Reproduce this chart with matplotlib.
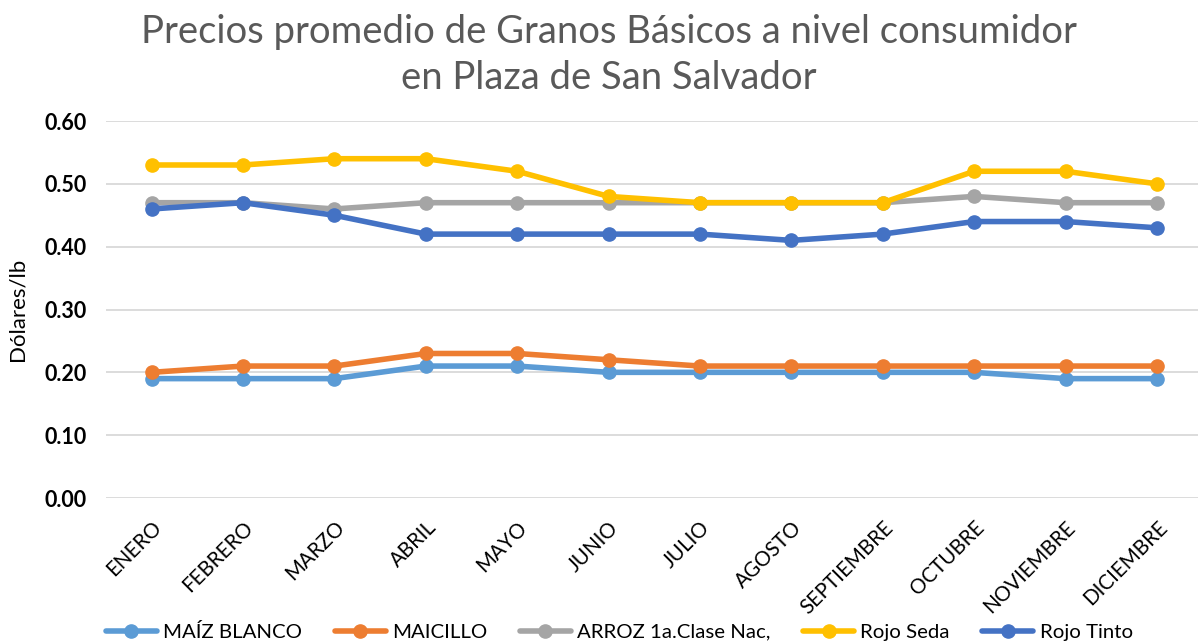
import matplotlib.pyplot as plt

# Datos
meses = ['ENERO', 'FEBRERO', 'MARZO', 'ABRIL', 'MAYO', 'JUNIO', 'JULIO',
         'AGOSTO', 'SEPTIEMBRE', 'OCTUBRE', 'NOVIEMBRE', 'DICIEMBRE']
maiz_blanco = [0.19, 0.19, 0.19, 0.21, 0.21, 0.20, 0.20, 0.20, 0.20, 0.20, 0.19, 0.19]
maicillo = [0.20, 0.21, 0.21, 0.23, 0.23, 0.22, 0.21, 0.21, 0.21, 0.21, 0.21, 0.21]
arroz = [0.47, 0.47, 0.46, 0.47, 0.47, 0.47, 0.47, 0.47, 0.47, 0.48, 0.47, 0.47]
rojo_seda = [0.53, 0.53, 0.54, 0.54, 0.52, 0.48, 0.47, 0.47, 0.47, 0.52, 0.52, 0.50]
rojo_tinto = [0.46, 0.47, 0.45, 0.42, 0.42, 0.42, 0.42, 0.41, 0.42, 0.44, 0.44, 0.43]

series = [
    ('MAÍZ BLANCO', maiz_blanco, '#5B9BD5'),
    ('MAICILLO', maicillo, '#ED7D31'),
    ('ARROZ 1a.Clase Nac,', arroz, '#A5A5A5'),
    ('Rojo Seda', rojo_seda, '#FFC000'),
    ('Rojo Tinto', rojo_tinto, '#4472C4'),
]

plt.rcParams['font.family'] = ['Lato', 'DejaVu Sans']

fig = plt.figure(figsize=(11.98, 6.44), dpi=100)
ax = fig.add_axes([0.0885, 0.2267, 0.9115, 0.5854])

x = list(range(len(meses)))
for nombre, valores, color in series:
    ax.plot(x, valores, color=color, linewidth=4, marker='o', markersize=9.5,
            label=nombre, solid_capstyle='round')

ax.set_ylim(0, 0.6)
ax.set_xlim(-0.5, 11.45)
ax.set_yticks([0, 0.1, 0.2, 0.3, 0.4, 0.5, 0.6])
ax.set_yticklabels(['%.2f' % v for v in ax.get_yticks()], fontsize=15.5, fontweight='bold')
ax.set_xticks(x)
ax.set_xticklabels(meses, rotation=45, ha='right', rotation_mode='anchor', fontsize=14.8)
ax.tick_params(length=0, pad=14)
ax.tick_params(axis='x', pad=14)
ax.grid(axis='y', color='#D9D9D9', linewidth=1.3)
ax.set_axisbelow(True)
for s in ax.spines.values():
    s.set_visible(False)

ax.set_ylabel('Dólares/lb', fontsize=16, labelpad=12)

fig.text(0.508, 0.978, 'Precios promedio de Granos Básicos a nivel consumidor\nen Plaza de San Salvador',
         fontsize=27.5, color='#595959', ha='center', va='top', linespacing=1.35)

ax.legend(loc='center', bbox_to_anchor=(0.47, -0.355), ncol=5, frameon=False,
          fontsize=14.7, handlelength=2.5, columnspacing=1.6, handletextpad=0.3)

fig.savefig('out.png', dpi=100)
